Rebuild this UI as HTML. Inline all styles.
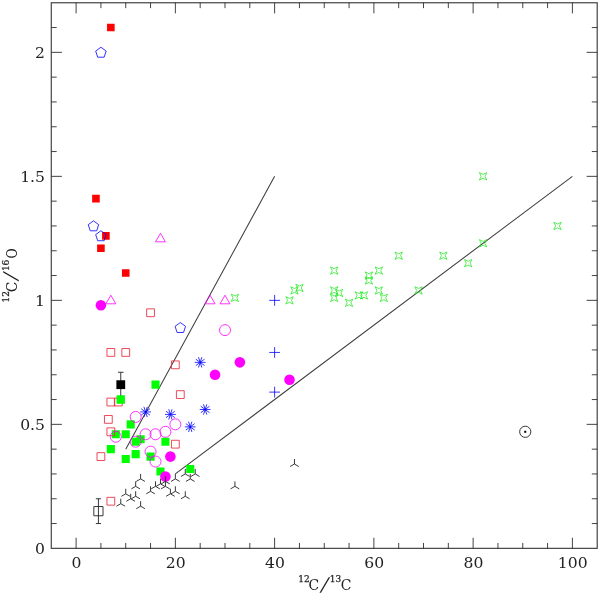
<!DOCTYPE html>
<html lang="en"><head><meta charset="utf-8"><title>12C/16O versus 12C/13C</title>
<style>html,body{margin:0;padding:0;background:#fff}body{width:600px;height:596px;overflow:hidden}svg{display:block}text{font-family:"DejaVu Serif","Liberation Serif",serif;fill:#222}</style></head><body>
<svg width="600" height="596" viewBox="0 0 600 596">
<rect width="600" height="596" fill="#fff"/>
<g stroke="#222" stroke-width="0.85" fill="none" stroke-linecap="butt">
<rect x="51.28" y="2.75" width="545.93" height="545.6" stroke="#444" stroke-width="1.2"/>
<path d="M76.1 548.35v-10.6M76.1 2.75v10.6M100.91 548.35v-5.4M100.91 2.75v5.4M125.73 548.35v-5.4M125.73 2.75v5.4M150.55 548.35v-5.4M150.55 2.75v5.4M175.36 548.35v-10.6M175.36 2.75v10.6M200.18 548.35v-5.4M200.18 2.75v5.4M224.99 548.35v-5.4M224.99 2.75v5.4M249.81 548.35v-5.4M249.81 2.75v5.4M274.62 548.35v-10.6M274.62 2.75v10.6M299.44 548.35v-5.4M299.44 2.75v5.4M324.25 548.35v-5.4M324.25 2.75v5.4M349.07 548.35v-5.4M349.07 2.75v5.4M373.88 548.35v-10.6M373.88 2.75v10.6M398.7 548.35v-5.4M398.7 2.75v5.4M423.51 548.35v-5.4M423.51 2.75v5.4M448.33 548.35v-5.4M448.33 2.75v5.4M473.14 548.35v-10.6M473.14 2.75v10.6M497.96 548.35v-5.4M497.96 2.75v5.4M522.77 548.35v-5.4M522.77 2.75v5.4M547.59 548.35v-5.4M547.59 2.75v5.4M572.4 548.35v-10.6M572.4 2.75v10.6M51.28 523.55h5.4M597.22 523.55h-5.4M51.28 498.75h5.4M597.22 498.75h-5.4M51.28 473.95h5.4M597.22 473.95h-5.4M51.28 449.15h5.4M597.22 449.15h-5.4M51.28 424.35h10.6M597.22 424.35h-10.6M51.28 399.55h5.4M597.22 399.55h-5.4M51.28 374.75h5.4M597.22 374.75h-5.4M51.28 349.95h5.4M597.22 349.95h-5.4M51.28 325.15h5.4M597.22 325.15h-5.4M51.28 300.35h10.6M597.22 300.35h-10.6M51.28 275.55h5.4M597.22 275.55h-5.4M51.28 250.75h5.4M597.22 250.75h-5.4M51.28 225.95h5.4M597.22 225.95h-5.4M51.28 201.15h5.4M597.22 201.15h-5.4M51.28 176.35h10.6M597.22 176.35h-10.6M51.28 151.55h5.4M597.22 151.55h-5.4M51.28 126.75h5.4M597.22 126.75h-5.4M51.28 101.95h5.4M597.22 101.95h-5.4M51.28 77.15h5.4M597.22 77.15h-5.4M51.28 52.35h10.6M597.22 52.35h-10.6M51.28 27.55h5.4M597.22 27.55h-5.4"/>
</g>
<g font-size="15">
<text transform="translate(76.4 568.1) scale(1.04 1)" text-anchor="middle">0</text>
<text transform="translate(175.66 568.1) scale(1.04 1)" text-anchor="middle">20</text>
<text transform="translate(274.92 568.1) scale(1.04 1)" text-anchor="middle">40</text>
<text transform="translate(374.18 568.1) scale(1.04 1)" text-anchor="middle">60</text>
<text transform="translate(473.44 568.1) scale(1.04 1)" text-anchor="middle">80</text>
<text transform="translate(572.7 568.1) scale(1.04 1)" text-anchor="middle">100</text>
<text transform="translate(45 553.95) scale(1.04 1)" text-anchor="end">0</text>
<text transform="translate(45 429.95) scale(1.04 1)" text-anchor="end">0.5</text>
<text transform="translate(45 305.95) scale(1.04 1)" text-anchor="end">1</text>
<text transform="translate(45 181.95) scale(1.04 1)" text-anchor="end">1.5</text>
<text transform="translate(45 57.95) scale(1.04 1)" text-anchor="end">2</text>
</g>
<g transform="translate(299.1 590.2)">
<text font-size="9" x="-0.8" y="-8" stroke="#222" stroke-width="0.25">12</text>
<text font-size="15.2" transform="translate(9.5 0) scale(0.92 1)">C</text>
<text font-size="19" transform="translate(20.8 0.6) skewX(-15)">/</text>
<text font-size="9" x="30.7" y="-8" stroke="#222" stroke-width="0.25">13</text>
<text font-size="15.2" transform="translate(41.6 0) scale(0.92 1)">C</text>
</g>
<g transform="translate(16.8 301.8) rotate(-90)">
<text font-size="9" x="-0.8" y="-8" stroke="#222" stroke-width="0.25">12</text>
<text font-size="15.2" transform="translate(9.5 0) scale(0.92 1)">C</text>
<text font-size="19" transform="translate(20.8 0.6) skewX(-15)">/</text>
<text font-size="9" x="30.7" y="-8" stroke="#222" stroke-width="0.25">16</text>
<text font-size="15.2" transform="translate(43.4 0) scale(0.82 1)">O</text>
</g>
<g stroke="#404040" stroke-width="1.05" fill="none">
<path d="M125.73 449.15L274.62 176.35M175.36 473.95L572.4 176.35"/>
</g>
<path fill="#f00" d="M107.04 23.75h7.6v7.6h-7.6zM92.15 194.87h7.6v7.6h-7.6zM102.08 232.07h7.6v7.6h-7.6zM97.11 244.47h7.6v7.6h-7.6zM121.93 269.27h7.6v7.6h-7.6z"/>
<path fill="#0f0" d="M116.72 395.5h8.1v8.1h-8.1zM151.46 380.62h8.1v8.1h-8.1zM126.64 420.3h8.1v8.1h-8.1zM111.75 430.22h8.1v8.1h-8.1zM121.68 430.22h8.1v8.1h-8.1zM136.57 435.18h8.1v8.1h-8.1zM131.61 437.66h8.1v8.1h-8.1zM161.38 437.66h8.1v8.1h-8.1zM106.79 445.1h8.1v8.1h-8.1zM131.61 450.06h8.1v8.1h-8.1zM121.68 455.02h8.1v8.1h-8.1zM146.5 452.54h8.1v8.1h-8.1zM156.42 467.42h8.1v8.1h-8.1zM186.2 464.94h8.1v8.1h-8.1z"/>
<path fill="none" stroke="#ea2a3c" stroke-width="0.85" d="M146.65 308.85h7.8v7.8h-7.8zM106.94 348.53h7.8v7.8h-7.8zM121.83 348.53h7.8v7.8h-7.8zM171.46 360.93h7.8v7.8h-7.8zM176.42 390.69h7.8v7.8h-7.8zM106.94 398.13h7.8v7.8h-7.8zM114.39 398.13h7.8v7.8h-7.8zM104.46 415.49h7.8v7.8h-7.8zM106.94 427.89h7.8v7.8h-7.8zM171.46 440.29h7.8v7.8h-7.8zM97.01 452.69h7.8v7.8h-7.8zM106.94 497.33h7.8v7.8h-7.8z"/>
<g fill="#f0f"><circle cx="100.91" cy="305.31" r="5.3"/><circle cx="215.06" cy="374.75" r="5.3"/><circle cx="239.88" cy="362.35" r="5.3"/><circle cx="289.51" cy="379.71" r="5.3"/><circle cx="170.4" cy="456.59" r="5.3"/><circle cx="165.43" cy="476.43" r="5.3"/></g>
<g fill="none" stroke="#f0f" stroke-width="0.8"><circle cx="224.99" cy="330.11" r="5.5"/><circle cx="135.66" cy="416.91" r="5.5"/><circle cx="175.36" cy="424.35" r="5.5"/><circle cx="165.43" cy="431.79" r="5.5"/><circle cx="155.51" cy="434.27" r="5.5"/><circle cx="145.58" cy="434.27" r="5.5"/><circle cx="115.8" cy="436.75" r="5.5"/><circle cx="135.66" cy="441.71" r="5.5"/><circle cx="150.55" cy="451.63" r="5.5"/><circle cx="155.51" cy="461.55" r="5.5"/></g>
<path fill="none" stroke="#f0f" stroke-width="0.8" d="M160.47 233.25L155.53 241.8L165.41 241.8zM110.84 295.25L105.9 303.8L115.78 303.8zM210.1 295.25L205.16 303.8L215.04 303.8zM224.99 295.25L220.05 303.8L229.93 303.8z"/>
<path fill="none" stroke="#00f" stroke-width="0.8" d="M100.91 47.25L95.68 51.05L97.68 57.2L104.15 57.2L106.15 51.05zM93.47 220.85L88.24 224.65L90.24 230.8L96.7 230.8L98.7 224.65zM100.91 230.77L95.68 234.57L97.68 240.72L104.15 240.72L106.15 234.57zM180.32 322.53L175.09 326.33L177.09 332.48L183.56 332.48L185.55 326.33z"/>
<path fill="none" stroke="#00f" stroke-width="0.8" d="M269.22 300.35h10.8M274.62 294.95v10.8M269.22 352.43h10.8M274.62 347.03v10.8M269.22 392.11h10.8M274.62 386.71v10.8"/>
<path fill="none" stroke="#00f" stroke-width="0.8" d="M194.78 362.35L205.58 362.35M195.81 365.52L204.54 359.18M198.51 367.49L201.84 357.21M201.84 367.49L198.51 357.21M204.54 365.52L195.81 359.18M140.18 411.95L150.98 411.95M141.21 415.12L149.95 408.78M143.91 417.09L147.25 406.81M147.25 417.09L143.91 406.81M149.95 415.12L141.21 408.78M165 414.43L175.8 414.43M166.03 417.6L174.77 411.26M168.73 419.57L172.07 409.29M172.07 419.57L168.73 409.29M174.77 417.6L166.03 411.26M199.74 409.47L210.54 409.47M200.77 412.64L209.51 406.3M203.47 414.61L206.81 404.33M206.81 414.61L203.47 404.33M209.51 412.64L200.77 406.3M184.85 426.83L195.65 426.83M185.88 430L194.62 423.66M188.58 431.97L191.92 421.69M191.92 431.97L188.58 421.69M194.62 430L185.88 423.66"/>
<path fill="none" stroke="#22e822" stroke-width="0.75" d="M231.22 294.17L234.92 295.97L238.62 294.17L236.82 297.87L238.62 301.57L234.92 299.77L231.22 301.57L233.02 297.87zM285.81 296.65L289.51 298.45L293.21 296.65L291.41 300.35L293.21 304.05L289.51 302.25L285.81 304.05L287.61 300.35zM290.77 286.73L294.47 288.53L298.17 286.73L296.37 290.43L298.17 294.13L294.47 292.33L290.77 294.13L292.57 290.43zM295.74 284.25L299.44 286.05L303.13 284.25L301.33 287.95L303.13 291.65L299.44 289.85L295.74 291.65L297.54 287.95zM330.48 266.89L334.18 268.69L337.88 266.89L336.08 270.59L337.88 274.29L334.18 272.49L330.48 274.29L332.28 270.59zM330.48 286.73L334.18 288.53L337.88 286.73L336.08 290.43L337.88 294.13L334.18 292.33L330.48 294.13L332.28 290.43zM330.48 294.17L334.18 295.97L337.88 294.17L336.08 297.87L337.88 301.57L334.18 299.77L330.48 301.57L332.28 297.87zM335.44 289.21L339.14 291.01L342.84 289.21L341.04 292.91L342.84 296.61L339.14 294.81L335.44 296.61L337.24 292.91zM345.37 299.13L349.07 300.93L352.77 299.13L350.97 302.83L352.77 306.53L349.07 304.73L345.37 306.53L347.17 302.83zM355.29 291.69L358.99 293.49L362.69 291.69L360.89 295.39L362.69 299.09L358.99 297.29L355.29 299.09L357.09 295.39zM360.25 291.69L363.95 293.49L367.65 291.69L365.85 295.39L367.65 299.09L363.95 297.29L360.25 299.09L362.05 295.39zM365.22 271.85L368.92 273.65L372.62 271.85L370.82 275.55L372.62 279.25L368.92 277.45L365.22 279.25L367.02 275.55zM365.22 276.81L368.92 278.61L372.62 276.81L370.82 280.51L372.62 284.21L368.92 282.41L365.22 284.21L367.02 280.51zM375.14 266.89L378.84 268.69L382.54 266.89L380.74 270.59L382.54 274.29L378.84 272.49L375.14 274.29L376.94 270.59zM375.14 286.73L378.84 288.53L382.54 286.73L380.74 290.43L382.54 294.13L378.84 292.33L375.14 294.13L376.94 290.43zM380.11 294.17L383.81 295.97L387.51 294.17L385.71 297.87L387.51 301.57L383.81 299.77L380.11 301.57L381.91 297.87zM395 252.01L398.7 253.81L402.4 252.01L400.6 255.71L402.4 259.41L398.7 257.61L395 259.41L396.8 255.71zM414.85 286.73L418.55 288.53L422.25 286.73L420.45 290.43L422.25 294.13L418.55 292.33L414.85 294.13L416.65 290.43zM439.66 252.01L443.36 253.81L447.06 252.01L445.26 255.71L447.06 259.41L443.36 257.61L439.66 259.41L441.46 255.71zM464.48 259.45L468.18 261.25L471.88 259.45L470.08 263.15L471.88 266.85L468.18 265.05L464.48 266.85L466.28 263.15zM479.37 172.65L483.07 174.45L486.77 172.65L484.97 176.35L486.77 180.05L483.07 178.25L479.37 180.05L481.17 176.35zM479.37 239.61L483.07 241.41L486.77 239.61L484.97 243.31L486.77 247.01L483.07 245.21L479.37 247.01L481.17 243.31zM553.81 222.25L557.51 224.05L561.21 222.25L559.41 225.95L561.21 229.65L557.51 227.85L553.81 229.65L555.61 225.95z"/>
<path fill="none" stroke="#222" stroke-width="0.9" d="M140.62 478.91L140.62 473.91M140.62 478.91L136.29 481.41M140.62 478.91L144.95 481.41M135.66 486.35L135.66 481.35M135.66 486.35L131.33 488.85M135.66 486.35L139.99 488.85M125.73 493.79L125.73 488.79M125.73 493.79L121.4 496.29M125.73 493.79L130.06 496.29M135.66 496.27L135.66 491.27M135.66 496.27L131.33 498.77M135.66 496.27L139.99 498.77M130.69 498.75L130.69 493.75M130.69 498.75L126.36 501.25M130.69 498.75L135.02 501.25M120.77 503.71L120.77 498.71M120.77 503.71L116.44 506.21M120.77 503.71L125.1 506.21M140.62 506.19L140.62 501.19M140.62 506.19L136.29 508.69M140.62 506.19L144.95 508.69M150.55 491.31L150.55 486.31M150.55 491.31L146.21 493.81M150.55 491.31L154.88 493.81M155.51 486.35L155.51 481.35M155.51 486.35L151.18 488.85M155.51 486.35L159.84 488.85M160.47 483.87L160.47 478.87M160.47 483.87L156.14 486.37M160.47 483.87L164.8 486.37M165.43 481.39L165.43 476.39M165.43 481.39L161.1 483.89M165.43 481.39L169.76 483.89M165.43 486.35L165.43 481.35M165.43 486.35L161.1 488.85M165.43 486.35L169.76 488.85M170.4 493.79L170.4 488.79M170.4 493.79L166.07 496.29M170.4 493.79L174.73 496.29M175.36 491.31L175.36 486.31M175.36 491.31L171.03 493.81M175.36 491.31L179.69 493.81M175.36 478.91L175.36 473.91M175.36 478.91L171.03 481.41M175.36 478.91L179.69 481.41M185.29 496.27L185.29 491.27M185.29 496.27L180.96 498.77M185.29 496.27L189.62 498.77M185.29 473.95L185.29 468.95M185.29 473.95L180.96 476.45M185.29 473.95L189.62 476.45M190.25 478.91L190.25 473.91M190.25 478.91L185.92 481.41M190.25 478.91L194.58 481.41M195.21 473.95L195.21 468.95M195.21 473.95L190.88 476.45M195.21 473.95L199.54 476.45M234.92 486.35L234.92 481.35M234.92 486.35L230.59 488.85M234.92 486.35L239.25 488.85M294.47 464.03L294.47 459.03M294.47 464.03L290.14 466.53M294.47 464.03L298.8 466.53"/>
<path fill="none" stroke="#222" stroke-width="0.9" d="M120.77 372.27V397.07M117.97 372.27h5.6"/>
<path fill="#000" d="M116.37 380.27h8.8v8.8h-8.8z"/>
<path fill="#0f0" d="M116.72 395.5h8.1v8.1h-8.1z"/>
<path fill="none" stroke="#222" stroke-width="0.9" d="M93.83 506.55h9.2v9.2h-9.2zM98.43 498.75V523.55M95.83 498.75h5.2M95.83 523.55h5.2"/>
<circle cx="525.25" cy="431.79" r="5.6" fill="none" stroke="#222" stroke-width="0.9"/>
<rect x="524.25" y="430.79" width="2" height="2" fill="#000"/>
</svg></body></html>
